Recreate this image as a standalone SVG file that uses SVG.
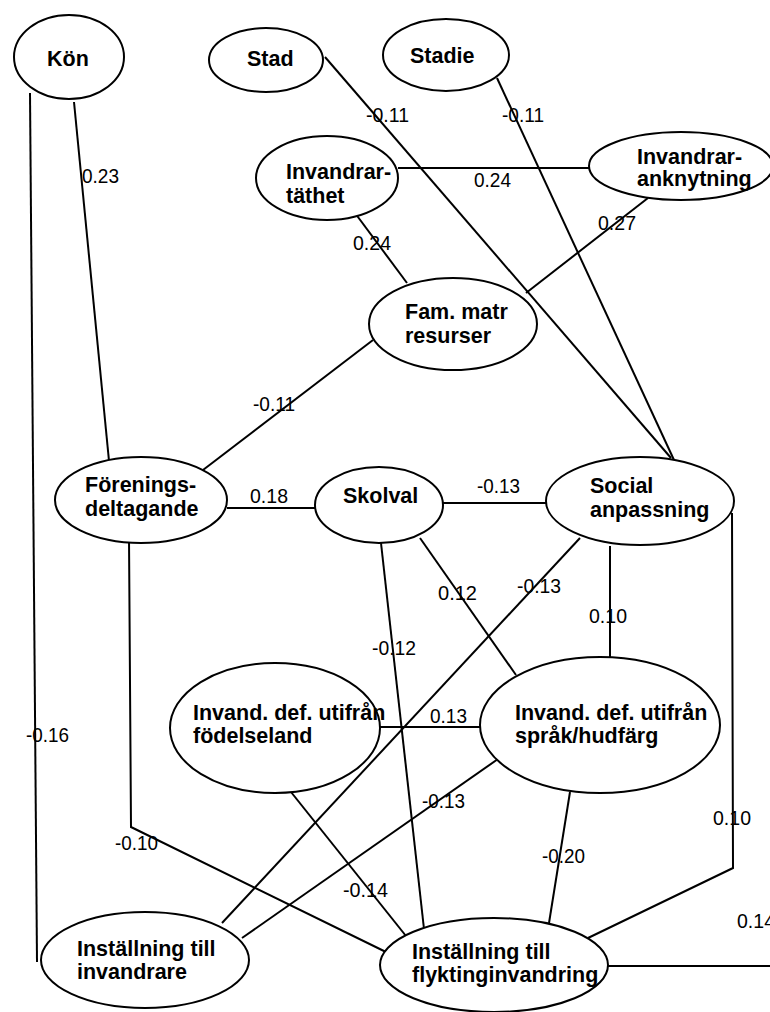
<svg xmlns="http://www.w3.org/2000/svg" width="770" height="1012" viewBox="0 0 770 1012">
<style>
.bg{fill:#fff}
.n ellipse{fill:#fff;stroke:#000;stroke-width:2}
.n text{font-family:"Liberation Sans",Arial,sans-serif;font-weight:bold;font-size:21.5px;fill:#000}
#connectors line,#connectors polyline{stroke:#000;stroke-width:2;fill:none}
.l{font-family:"Liberation Sans",Arial,sans-serif;font-size:20px;fill:#000}
</style>
<rect class="bg" x="0" y="0" width="770" height="1012"/>
<g id="connectors">
<line x1="30" y1="93" x2="37" y2="962"/>
<line x1="74" y1="102" x2="109" y2="461"/>
<line x1="325" y1="57" x2="671" y2="458"/>
<line x1="497" y1="78" x2="674" y2="460"/>
<line x1="398" y1="168" x2="589" y2="168"/>
<line x1="355" y1="213" x2="407" y2="283"/>
<line x1="648" y1="198" x2="526" y2="293"/>
<line x1="373" y1="340" x2="203" y2="470"/>
<line x1="227" y1="508" x2="315" y2="508"/>
<line x1="443" y1="503" x2="546" y2="503"/>
<line x1="381" y1="543" x2="424" y2="929"/>
<line x1="420" y1="538" x2="516" y2="675"/>
<line x1="580" y1="538" x2="222" y2="923"/>
<line x1="610" y1="546" x2="610" y2="657"/>
<polyline points="732,513 733,868 588,938"/>
<polyline points="608,966 771,966 771,183"/>
<polyline points="129,538 131,827 388,953"/>
<line x1="379" y1="727" x2="480" y2="727"/>
<line x1="498" y1="759" x2="242" y2="938"/>
<line x1="291" y1="792" x2="406" y2="936"/>
<line x1="570" y1="792" x2="549" y2="923"/>
</g>
<g id="labels">
<text class="l" x="82" y="183" textLength="37" lengthAdjust="spacingAndGlyphs">0.23</text>
<text class="l" x="26" y="742" textLength="43" lengthAdjust="spacingAndGlyphs">-0.16</text>
<text class="l" x="366" y="122" textLength="43" lengthAdjust="spacingAndGlyphs">-0.11</text>
<text class="l" x="502" y="122" textLength="42" lengthAdjust="spacingAndGlyphs">-0.11</text>
<text class="l" x="474" y="187" textLength="37" lengthAdjust="spacingAndGlyphs">0.24</text>
<text class="l" x="353" y="250" textLength="38" lengthAdjust="spacingAndGlyphs">0.24</text>
<text class="l" x="598" y="230" textLength="38" lengthAdjust="spacingAndGlyphs">0.27</text>
<text class="l" x="253" y="411" textLength="42" lengthAdjust="spacingAndGlyphs">-0.11</text>
<text class="l" x="250" y="503" textLength="38" lengthAdjust="spacingAndGlyphs">0.18</text>
<text class="l" x="477" y="493" textLength="43" lengthAdjust="spacingAndGlyphs">-0.13</text>
<text class="l" x="438" y="600" textLength="39" lengthAdjust="spacingAndGlyphs">0.12</text>
<text class="l" x="517" y="593" textLength="44" lengthAdjust="spacingAndGlyphs">-0.13</text>
<text class="l" x="589" y="623" textLength="38" lengthAdjust="spacingAndGlyphs">0.10</text>
<text class="l" x="372" y="655" textLength="44" lengthAdjust="spacingAndGlyphs">-0.12</text>
<text class="l" x="430" y="723" textLength="37" lengthAdjust="spacingAndGlyphs">0.13</text>
<text class="l" x="422" y="808" textLength="43" lengthAdjust="spacingAndGlyphs">-0.13</text>
<text class="l" x="115" y="850" textLength="43" lengthAdjust="spacingAndGlyphs">-0.10</text>
<text class="l" x="343" y="897" textLength="45" lengthAdjust="spacingAndGlyphs">-0.14</text>
<text class="l" x="542" y="863" textLength="43" lengthAdjust="spacingAndGlyphs">-0.20</text>
<text class="l" x="713" y="825" textLength="38" lengthAdjust="spacingAndGlyphs">0.10</text>
<text class="l" x="737" y="928" textLength="38" lengthAdjust="spacingAndGlyphs">0.14</text>
</g>
<g id="kon" class="n"><ellipse cx="69" cy="57" rx="55" ry="42"/><text x="47" y="66">Kön</text></g>
<g id="stad" class="n"><ellipse cx="266" cy="60" rx="57" ry="32"/><text x="247" y="66">Stad</text></g>
<g id="stadie" class="n"><ellipse cx="446" cy="55" rx="63" ry="36"/><text x="410" y="63">Stadie</text></g>
<g id="invandrartathet" class="n"><ellipse cx="327" cy="178" rx="71" ry="42"/><text x="286" y="179">Invandrar-</text><text x="286" y="203">täthet</text></g>
<g id="invandraranknytning" class="n"><ellipse cx="681" cy="166" rx="92" ry="34"/><text x="637" y="164">Invandrar-</text><text x="637" y="186">anknytning</text></g>
<g id="fammatr" class="n"><ellipse cx="453" cy="324" rx="84" ry="46"/><text x="405" y="319">Fam. matr</text><text x="405" y="343">resurser</text></g>
<g id="forenings" class="n"><ellipse cx="141" cy="500" rx="86" ry="43"/><text x="85" y="492">Förenings-</text><text x="85" y="516">deltagande</text></g>
<g id="skolval" class="n"><ellipse cx="379" cy="505" rx="64" ry="38"/><text x="343" y="503">Skolval</text></g>
<g id="social" class="n"><ellipse cx="640" cy="501" rx="94" ry="44"/><text x="590" y="493">Social</text><text x="590" y="517">anpassning</text></g>
<g id="fodelseland" class="n"><ellipse cx="275" cy="728" rx="105" ry="65"/><text x="193" y="720">Invand. def. utifrån</text><text x="193" y="743">födelseland</text></g>
<g id="sprak" class="n"><ellipse cx="600" cy="725" rx="120" ry="68"/><text x="515" y="720">Invand. def. utifrån</text><text x="515" y="743">språk/hudfärg</text></g>
<g id="installning-invandrare" class="n"><ellipse cx="145" cy="960" rx="104" ry="48"/><text x="77" y="956">Inställning till</text><text x="77" y="979">invandrare</text></g>
<g id="installning-flykting" class="n"><ellipse cx="494" cy="965" rx="114" ry="47"/><text x="412" y="959">Inställning till</text><text x="412" y="982">flyktinginvandring</text></g>
</svg>
